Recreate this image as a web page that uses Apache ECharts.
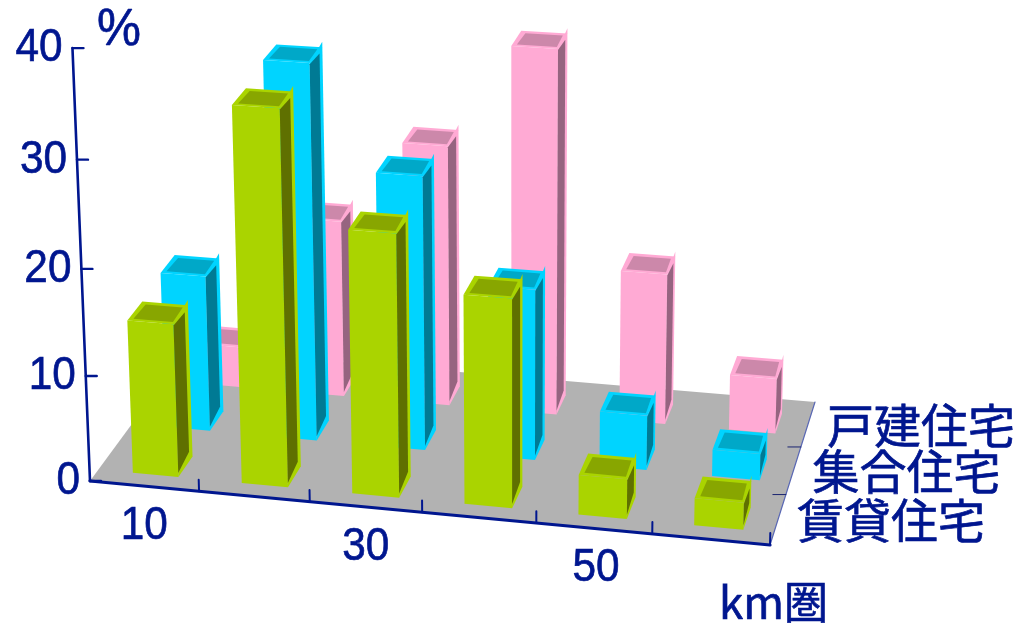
<!DOCTYPE html>
<html>
<head>
<meta charset="utf-8">
<style>html,body{margin:0;padding:0;background:#fff}#chart{width:1019px;height:623px}</style>
<script src="https://cdn.jsdelivr.net/npm/echarts@6/dist/echarts.min.js"></script>
</head>
<body>
<div id="chart"></div>
<script>
// Share of households by housing type and distance band (%)
const distanceBands = ['10', '20', '30', '40', '50', '60'];
const bandLabels = ['10', '', '30', '', '50', ''];
const percentTicks = [0, 10, 20, 30, 40];
const housingTypes = ['賃貸住宅', '集合住宅', '戸建住宅'];
const rentalValues = [14.5, 35, 24.5, 19.4, 3.7, 2.5];
const condoValues = [15, 35.7, 26, 16.2, 5.2, 2.5];
const houseValues = [4, 17.2, 25.2, 35, 14.5, 5.3];

const NAVY = '#00168f';
const LATIN = '"Liberation Sans", Arial, sans-serif';
const CJK = '"Noto Sans CJK JP", sans-serif';

// Colours per row: front face, top face, side face
const rowPalette = [
  { front: '#aad400', top: '#88a600', side: '#5f7000' },
  { front: '#00d4ff', top: '#00a8c8', side: '#007a94' },
  { front: '#ffaad4', top: '#cc88aa', side: '#966480' }
];

// The hidden flat grid gives 100px per band and 10px per percent;
// its pixels are then taken through a perspective camera.
const FLAT_W = 600, FLAT_H = 400;

// Floor corners on screen: front-left, front-right, back-right, back-left
const floorQuad = [[90, 481], [770, 545], [815, 402], [187, 349]];
// Camera column for the height axis
const heightColumn = [-0.51, -10.87, -0.00099];

const camera = (function (q) {
  const [[x0, y0], [x1, y1], [x2, y2], [x3, y3]] = q;
  const dx1 = x1 - x2, dx2 = x3 - x2, sx = x0 - x1 + x2 - x3;
  const dy1 = y1 - y2, dy2 = y3 - y2, sy = y0 - y1 + y2 - y3;
  const det = dx1 * dy2 - dx2 * dy1;
  const g = (sx * dy2 - dx2 * sy) / det;
  const h = (dx1 * sy - sx * dy1) / det;
  return { a: x1 - x0 + g * x1, b: x3 - x0 + h * x3, c: x0,
           d: y1 - y0 + g * y1, e: y3 - y0 + h * y3, f: y0, g, h };
})(floorQuad);

// band position, row depth and percent to screen pixels
function project(api, band, depth, pct) {
  const flat = api.coord([band, pct]);
  const u = flat[0] / FLAT_W;
  const height = (FLAT_H - flat[1]) / 10;
  const v = depth / housingTypes.length;
  const c = camera;
  const w = c.g * u + c.h * v + 1 + heightColumn[2] * height;
  return [
    (c.a * u + c.b * v + c.c + heightColumn[0] * height) / w,
    (c.d * u + c.e * v + c.f + heightColumn[1] * height) / w
  ];
}

const poly = (points, fill) => ({ type: 'polygon', shape: { points }, style: { fill }, silent: true });
const line = (a, b, stroke, lineWidth) => ({
  type: 'line', silent: true,
  shape: { x1: a[0], y1: a[1], x2: b[0], y2: b[1] },
  style: { stroke, lineWidth, lineCap: 'round' }
});
const label = (text, x, y, size, family, align, scaleX) => ({
  type: 'text', x, y, scaleX: scaleX || 1, silent: true,
  style: {
    text, fill: NAVY, stroke: NAVY, lineWidth: 0.7,
    font: size + 'px ' + family, align, verticalAlign: 'middle'
  }
});

// One box: bright shell with darker top and side panels set into it
function renderBar(row) {
  const pal = rowPalette[row];
  return function (params, api) {
    const i = api.value(0), val = api.value(1);
    const x0 = i + 0.32, x1 = i + 0.74, d0 = row + 0.24, d1 = row + 0.68;
    const P = (x, d, h) => project(api, x, d, h);
    return {
      type: 'group',
      children: [
        poly([P(x0, d0, 0), P(x1, d0, 0), P(x1, d0, val), P(x0, d0, val)], pal.front),
        poly([P(x0, d0, val), P(x1, d0, val), P(x1, d1, val), P(x0, d1, val)], pal.front),
        poly([P(x1, d0, 0), P(x1, d1, 0), P(x1, d1, val + 0.5), P(x1, d0, val)], pal.front),
        poly([P(x0 + 0.04, d0 + 0.05, val), P(x1 - 0.02, d0 + 0.05, val),
              P(x1 - 0.03, d1 - 0.06, val), P(x0 + 0.05, d1 - 0.06, val)], pal.top),
        poly([P(x1, d0, 0.4), P(x1, d1 - 0.1, 0.9),
              P(x1, d1 - 0.1, val - 0.25), P(x1, d0, val - 0.1)], pal.side)
      ]
    };
  };
}

function barSeries(row, values) {
  return {
    type: 'custom',
    name: housingTypes[row],
    coordinateSystem: 'cartesian2d',
    renderItem: renderBar(row),
    encode: { x: 0, y: 1 },
    data: values.map((v, i) => [i, v]),
    z: 5 + (housingTypes.length - row)
  };
}

function renderFloor(params, api) {
  const n = distanceBands.length, m = housingTypes.length;
  return poly([[0, 0], [n, 0], [n, m], [0, m]].map(p => project(api, p[0], p[1], 0)), '#b2b2b2');
}

// Axis lines, ticks and their labels
function renderAxes(params, api) {
  const n = distanceBands.length, m = housingTypes.length;
  const P = (x, d, h) => project(api, x, d, h);
  const top = percentTicks[percentTicks.length - 1];
  const kids = [
    line(P(0, 0, 0), P(0, 0, top), NAVY, 2.6),
    line(P(0, 0, 0), P(n, 0, 0), NAVY, 3.2),
    line(P(n, 0, 0), P(n, m, 0), '#5a68b4', 1.2)
  ];
  percentTicks.forEach(t => {
    const a = P(0, 0, t);
    kids.push(line(a, [a[0] + 11, a[1]], NAVY, 2.4));
    kids.push(label(String(t), a[0] - 10, a[1], 47, LATIN, 'right', 0.9));
  });
  for (let i = 1; i <= n; i++) {
    kids.push(line(P(i, 0, 0), P(i, 0, 1.1), NAVY, 2));
  }
  bandLabels.forEach((t, i) => {
    if (!t) return;
    const a = P(i + 0.5, 0, 0);
    kids.push(label(t, a[0] + (i > 3 ? 2 : 0), a[1] + 40, 47, LATIN, 'center', 0.9));
  });
  for (let r = 1; r < m; r++) {
    const a = P(n, r, 0);
    kids.push(line(a, [a[0] - 13, a[1]], '#1a2470', 1));
  }
  housingTypes.forEach((t, r) => {
    const a = P(n, r + 0.5, 0);
    kids.push(label(t, a[0] + 19, a[1] + 1, 47, CJK, 'left'));
  });
  kids.push(label('%', 97, 31, 52, LATIN, 'left', 0.95));
  kids.push(label('km圏', 719, 602, 44, CJK, 'left'));
  return { type: 'group', children: kids };
}

const chart = echarts.init(document.getElementById('chart'), null, { renderer: 'canvas' });
chart.setOption({
  animation: false,
  backgroundColor: '#ffffff',
  grid: { left: 0, top: 0, width: FLAT_W, height: FLAT_H, containLabel: false },
  xAxis: { type: 'value', min: 0, max: distanceBands.length, show: false },
  yAxis: { type: 'value', min: 0, max: 40, show: false },
  series: [
    { type: 'custom', renderItem: renderFloor, data: [[0, 0]], encode: { x: 0, y: 1 }, z: 1 },
    barSeries(2, houseValues),
    barSeries(1, condoValues),
    barSeries(0, rentalValues),
    { type: 'custom', renderItem: renderAxes, data: [[0, 0]], encode: { x: 0, y: 1 }, z: 10 }
  ]
});
</script>
</body>
</html>
